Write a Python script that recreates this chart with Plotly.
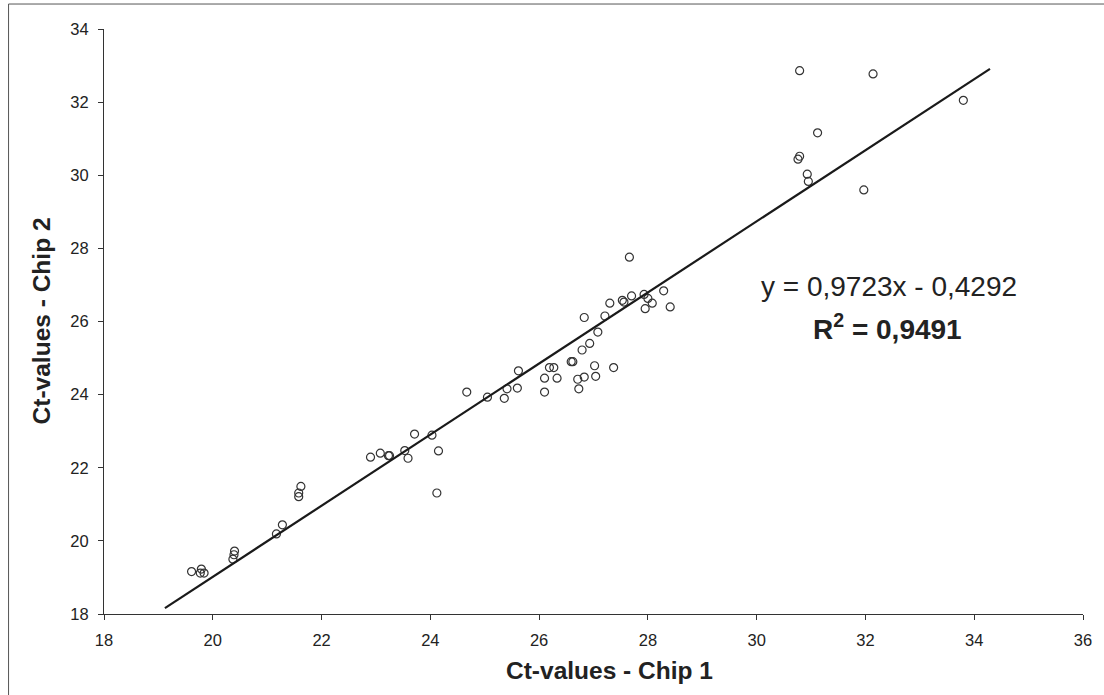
import plotly.graph_objects as go

# Ct-values of the same targets measured on two chips
chip1_ct = [
    19.61, 19.79, 19.77, 19.84, 20.37, 20.40, 20.39, 21.17, 21.28, 21.58,
    21.58, 21.62, 22.90, 23.08, 23.23, 23.25, 23.53, 23.59, 23.71, 24.03,
    24.15, 24.12, 24.67, 25.05, 25.36, 25.41, 25.60, 25.62, 26.10, 26.10,
    26.19, 26.27, 26.33, 26.59, 26.62, 26.71, 26.73, 26.83, 26.79, 26.93,
    27.02, 27.04, 27.08, 27.37, 26.83, 27.21, 27.30, 27.53, 27.56, 27.70,
    27.93, 28.00, 28.08, 27.95, 28.29, 28.41, 27.66, 30.79, 32.14, 33.80,
    31.12, 30.79, 30.76, 30.93, 30.95, 31.97,
]
chip2_ct = [
    19.16, 19.23, 19.12, 19.12, 19.50, 19.72, 19.62, 20.19, 20.44, 21.21,
    21.31, 21.49, 22.29, 22.40, 22.33, 22.33, 22.47, 22.26, 22.92, 22.89,
    22.46, 21.31, 24.07, 23.93, 23.90, 24.16, 24.18, 24.65, 24.45, 24.07,
    24.74, 24.74, 24.45, 24.90, 24.90, 24.42, 24.16, 24.48, 25.22, 25.40,
    24.79, 24.50, 25.71, 24.74, 26.11, 26.15, 26.50, 26.58, 26.53, 26.70,
    26.74, 26.63, 26.50, 26.35, 26.84, 26.40, 27.76, 32.86, 32.77, 32.05,
    31.16, 30.52, 30.44, 30.03, 29.83, 29.60,
]

# Linear trend line y = slope * x + intercept
slope = 0.9723
intercept = -0.4292
r_squared = 0.9491
trend_x = [19.12, 34.29]
trend_y = [slope * x + intercept for x in trend_x]

x_ticks = list(range(18, 37, 2))
y_ticks = list(range(18, 35, 2))

FONT = "Liberation Sans, Arial, sans-serif"
INK = "#222222"


def fmt(v, digits=4):
    return f"{abs(v):.{digits}f}".replace(".", ",")


fig = go.Figure()

fig.add_trace(go.Scatter(
    x=chip1_ct, y=chip2_ct, mode="markers",
    marker=dict(symbol="circle-open", size=8, color="#333333",
                line=dict(width=1.2, color="#333333")),
    showlegend=False, hoverinfo="x+y",
))

fig.add_trace(go.Scatter(
    x=trend_x, y=trend_y, mode="lines",
    line=dict(color="#1a1a1a", width=2.2),
    showlegend=False, hoverinfo="skip",
))

sign = "-" if intercept < 0 else "+"
equation = f"y = {fmt(slope)}x {sign} {fmt(intercept)}"
r2_text = f"<b>R<sup>2</sup> = {fmt(r_squared)}</b>"

annotations = [
    dict(text=equation, x=0.802, y=0.559, xref="paper", yref="paper",
         showarrow=False, font=dict(family=FONT, size=28, color=INK),
         xanchor="center", yanchor="middle"),
    dict(text=r2_text, x=0.800, y=0.4906, xref="paper", yref="paper",
         showarrow=False, font=dict(family=FONT, size=28, color=INK),
         xanchor="center", yanchor="middle"),
    dict(text="<b>Ct-values - Chip 1</b>", x=0.516, y=-0.0974,
         xref="paper", yref="paper", showarrow=False,
         font=dict(family=FONT, size=24.5, color=INK),
         xanchor="center", yanchor="middle"),
    dict(text="<b>Ct-values - Chip 2</b>", x=-0.0629, y=0.5009,
         xref="paper", yref="paper", showarrow=False, textangle=-90,
         font=dict(family=FONT, size=24.5, color=INK),
         xanchor="center", yanchor="middle"),
]

# Outer chart frame (left and top edges visible inside the canvas)
shapes = [
    dict(type="line", xref="paper", yref="paper",
         x0=-0.0975, x1=-0.0975, y0=-0.2, y1=1.0427,
         line=dict(color="#555555", width=1)),
    dict(type="line", xref="paper", yref="paper",
         x0=-0.0975, x1=1.05, y0=1.0427, y1=1.0427,
         line=dict(color="#555555", width=1)),
]

axis_common = dict(
    showgrid=False, zeroline=False, showline=True,
    linecolor="#333333", linewidth=1,
    ticks="outside", ticklen=5, tickwidth=1, tickcolor="#333333",
    tickfont=dict(family=FONT, size=16.5, color=INK),
    ticklabelstandoff=6,
)

fig.update_layout(
    width=1104, height=695,
    margin=dict(l=104, r=15, t=29, b=81),
    paper_bgcolor="white", plot_bgcolor="white",
    xaxis=dict(range=[18, 36], tickvals=x_ticks, **axis_common),
    yaxis=dict(range=[18, 34], tickvals=y_ticks, **axis_common),
    annotations=annotations,
    shapes=shapes,
)

fig.write_html("out.html")
